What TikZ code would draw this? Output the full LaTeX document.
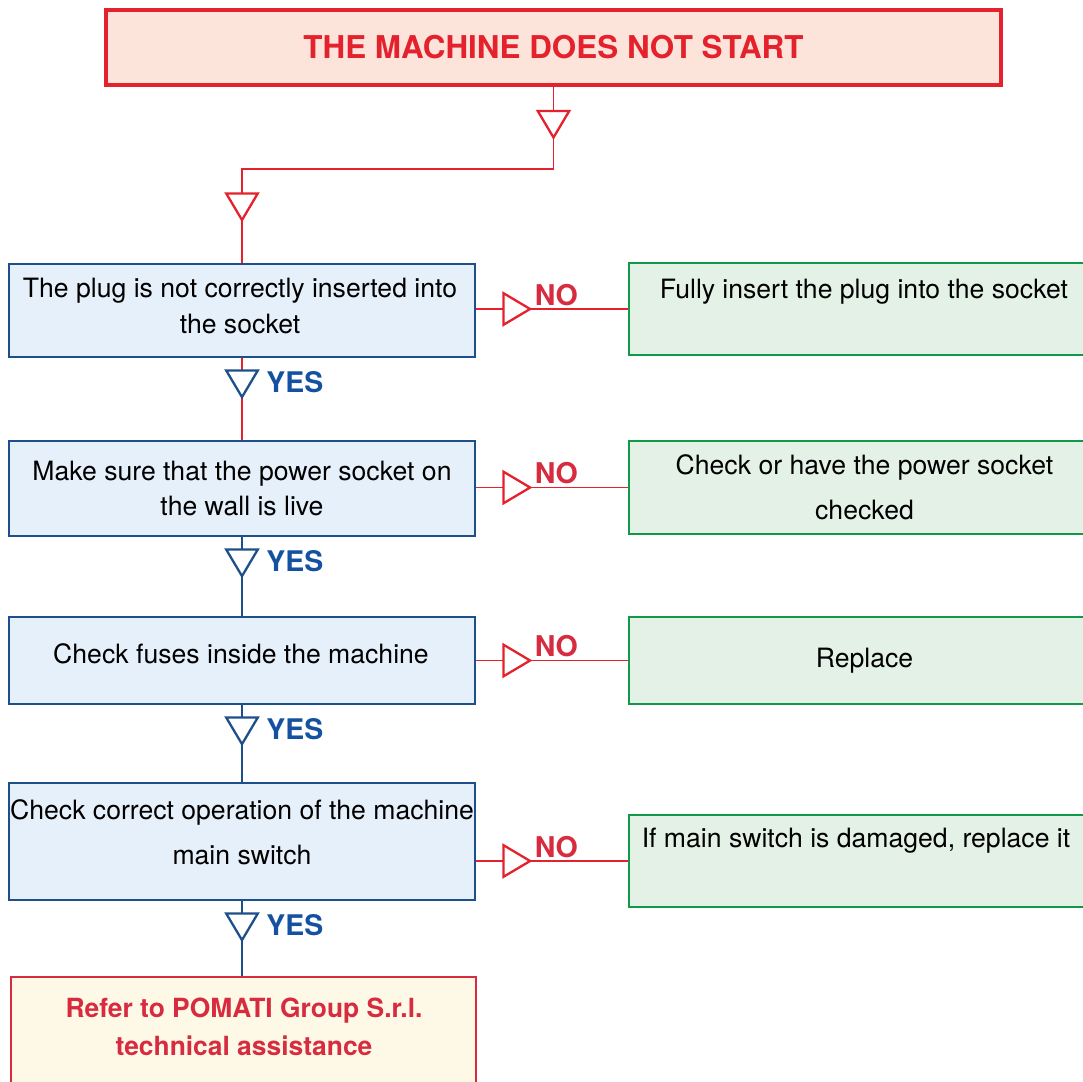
\documentclass[tikz,border=0pt]{standalone}
\usepackage{fontspec}
\setmainfont{TeX Gyre Heros}
\usetikzlibrary{arrows.meta,calc,decorations.markings}
\definecolor{fred}{HTML}{E4222D}
\definecolor{fcrim}{HTML}{D72C40}
\definecolor{fblue}{HTML}{1D4F8B}
\definecolor{fyes}{HTML}{1451A0}
\definecolor{fgreen}{HTML}{11994A}
\definecolor{tfill}{HTML}{FDE4DA}
\definecolor{qfill}{HTML}{E6F0FA}
\definecolor{afill}{HTML}{E3F1E6}
\definecolor{efill}{HTML}{FEF9E6}
\tikzset{
 flowtri/.tip={Triangle[length=15pt,width=17.5pt,line width=1.15pt,fill=white]},
 body/.style={font=\fontsize{13.3}{17.5}\selectfont, text=black, align=center, inner sep=0pt},
 qbox/.style={draw=fblue, fill=qfill, line width=1.4pt, minimum width=233pt, inner sep=0pt},
 abox/.style={draw=fgreen, fill=afill, line width=1.4pt, minimum width=235.5pt, inner sep=0pt},
 link/.style={line width=0.75pt},
 tipat/.style={postaction=decorate, decoration={markings, mark=at position #1 with {\arrow{flowtri}}}},
 nolab/.style={font=\fontsize{14.3}{16}\selectfont\bfseries, text=fcrim, anchor=base west, inner sep=0pt},
 yeslab/.style={font=\fontsize{14.2}{16}\selectfont\bfseries, text=fyes, anchor=base west, inner sep=0pt},
}
\begin{document}
\begin{tikzpicture}[x=0.5pt, y=-0.5pt]
 \clip (0,0) rectangle (1083,1082);
 % header
 \node[draw=fred, fill=tfill, line width=1.8pt, minimum width=447.5pt, minimum height=37.5pt, font=\fontsize{15.7}{18}\selectfont\bfseries, text=fred] (top) at (553.5,47.5) {THE MACHINE DOES NOT START};
 % checks
 \node[qbox, minimum height=46.5pt] (q1) at (242,310.5) {};
 \node[body] (q1t) at (240,306) {The plug is not correctly inserted into\\the socket};
 \node[qbox, minimum height=47.5pt, body] (q2) at (242,488.5) {Make sure that the power socket on\\the wall is live};
 \node[qbox, minimum height=43.5pt] (q3) at (242,660.5) {};
 \node[body] (q3t) at (241,654) {Check fuses inside the machine};
 \node[qbox, minimum height=58.5pt] (q4) at (242,841.5) {};
 \node[body, font=\fontsize{13.3}{22.5}\selectfont] (q4t) at (242,832.5) {Check correct operation of the machine\\main switch};
 % remedies
 \node[abox, minimum height=46pt] (a1) at (864.5,309) {};
 \node[body] (a1t) at (864,292) {Fully insert the plug into the socket};
 \node[abox, minimum height=46.5pt, body, font=\fontsize{13.3}{22.5}\selectfont] (a2) at (864.5,487.5) {Check or have the power socket\\checked};
 \node[abox, minimum height=43.5pt, body] (a3) at (864.5,660.5) {Replace};
 \node[abox, minimum height=46pt] (a4) at (864.5,861) {};
 \node[body] (a4t) at (856,841) {If main switch is damaged, replace it};
 % last resort
 \node[draw=fcrim, fill=efill, line width=1.4pt, minimum width=232.5pt, minimum height=61.5pt] (assist) at (243.5,1038.5) {};
 \node[body, font=\fontsize{13.2}{19}\selectfont\bfseries, text=fcrim] (assistt) at (244,1027) {Refer to POMATI Group S.r.l.\\technical assistance};
 % connectors
 \draw[link, draw=fred, postaction=decorate, decoration={markings, mark=at position 26.5pt with {\arrow{flowtri}}, mark=at position 223.5pt with {\arrow{flowtri}}}] (top.south) -- ++(0,82) -| (q1.north);
 \foreach \q/\a in {q1/a1,q2/a2,q3/a3,q4/a4}{
  \draw[link, draw=fred, tipat=28pt] (\q.east |- \a.west) -- (\a.west);
  \node[nolab] (no\q) at ($(\q.east |- \a.west)+(58,-4)$) {NO};
 }
 \foreach \q/\n/\c in {q1/q2/fred,q2/q3/fblue,q3/q4/fblue,q4/assist/fblue}{
  \draw[link, draw=\c, postaction=decorate, decoration={markings, mark=at position 20.5pt with {\arrow[fblue]{flowtri}}}] (\q.south) -- (\q.south |- \n.north);
  \node[yeslab] (yes\q) at ($(\q.south)+(24,34)$) {YES};
 }
\end{tikzpicture}
\end{document}
